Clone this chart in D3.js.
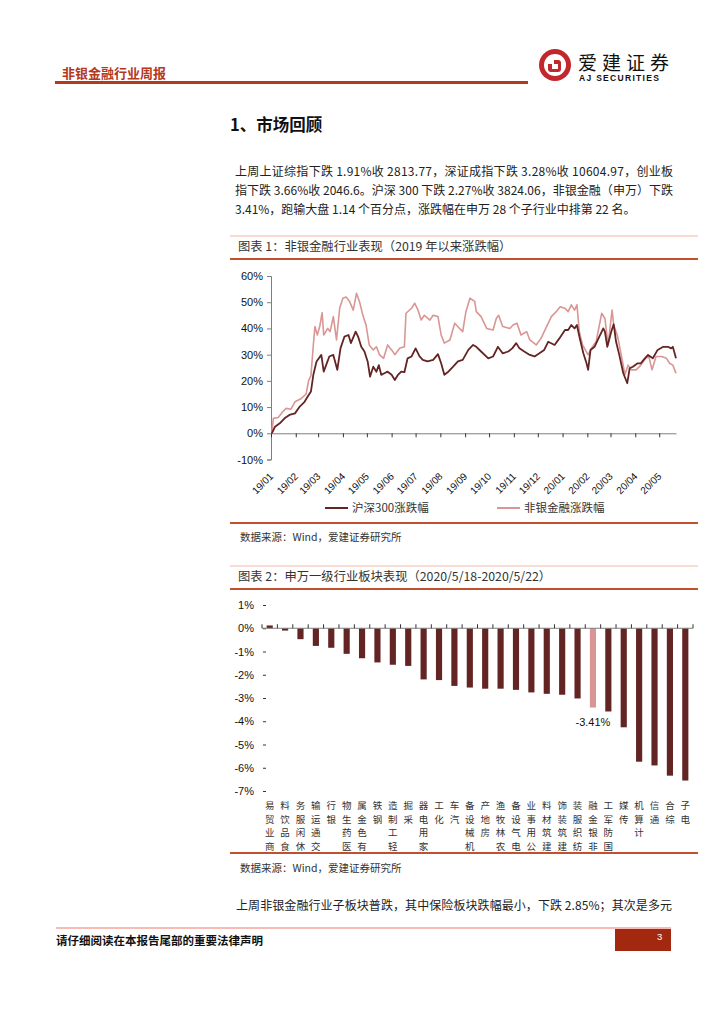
<!DOCTYPE html>
<html>
<head>
<meta charset="utf-8">
<script src="https://cdn.jsdelivr.net/npm/d3@7"></script>
<style>
  body { margin: 0; background: #fff; }
  svg { display: block; }
  text { font-family: "Noto Sans CJK SC", sans-serif; }
  .num text, text.num { font-family: "Liberation Sans", Arial, sans-serif; }
</style>
</head>
<body>
<svg id="page" width="724" height="1024"></svg>
<script>
// ---- chart 1 data: cumulative change since 2019 (%) ----
var hs300Dates = ["2019-01-02","2019-01-06","2019-01-12","2019-01-18","2019-01-24","2019-01-31","2019-02-06","2019-02-12","2019-02-16","2019-02-20","2019-02-23","2019-02-27","2019-03-05","2019-03-08","2019-03-11","2019-03-15","2019-03-20","2019-03-25","2019-03-29","2019-04-03","2019-04-08","2019-04-11","2019-04-17","2019-04-20","2019-04-24","2019-04-28","2019-05-02","2019-05-05","2019-05-09","2019-05-13","2019-05-16","2019-05-19","2019-05-23","2019-05-27","2019-06-01","2019-06-05","2019-06-09","2019-06-13","2019-06-17","2019-06-21","2019-06-26","2019-07-01","2019-07-06","2019-07-10","2019-07-16","2019-07-23","2019-07-29","2019-08-02","2019-08-06","2019-08-11","2019-08-17","2019-08-23","2019-08-29","2019-09-05","2019-09-11","2019-09-15","2019-09-21","2019-09-30","2019-10-06","2019-10-12","2019-10-18","2019-10-25","2019-10-30","2019-11-04","2019-11-08","2019-11-14","2019-11-21","2019-11-27","2019-12-03","2019-12-09","2019-12-14","2019-12-22","2019-12-28","2020-01-04","2020-01-08","2020-01-12","2020-01-16","2020-01-19","2020-01-22","2020-01-27","2020-01-31","2020-02-02","2020-02-05","2020-02-10","2020-02-16","2020-02-21","2020-02-23","2020-02-26","2020-03-02","2020-03-05","2020-03-08","2020-03-12","2020-03-17","2020-03-22","2020-03-25","2020-03-29","2020-04-04","2020-04-08","2020-04-13","2020-04-17","2020-04-23","2020-04-29","2020-05-06","2020-05-12","2020-05-16","2020-05-18","2020-05-22"];
var hs300Pct = [0,2.5,3.8,5.7,7,7.6,10.2,12,14,15.9,22.3,27.4,29.9,23.5,26,29.3,29.9,24.2,32.4,36.9,37.5,34.4,38.8,36.9,33,31.2,27.4,21.6,25.4,23.5,26,22.3,22.9,23.5,22.3,20.3,22.3,23.5,23.3,28.6,29.3,32.4,29.3,28,27.4,28,30.2,26.7,22.3,23.5,25.4,27.4,28,31.8,33.7,33,31.2,28.6,29.3,33,30.5,31.2,32.4,34.4,32.4,31.2,29.9,29.3,30.5,31.8,34.9,33.7,36.2,39.4,39.4,41.3,40,41.3,36.9,30.5,26.7,24.2,31.8,33,36.9,40,38.8,33,38.8,41.6,34.9,29.9,22.9,19.1,24.8,25.4,26.7,26.7,28.6,29.9,28.6,31.8,33,33,32.4,33,28.6];

var nonbankDates = ["2019-01-02","2019-01-04","2019-01-10","2019-01-16","2019-01-20","2019-01-26","2019-01-31","2019-02-08","2019-02-14","2019-02-17","2019-02-20","2019-02-23","2019-02-25","2019-02-28","2019-03-03","2019-03-06","2019-03-08","2019-03-13","2019-03-16","2019-03-20","2019-03-24","2019-03-28","2019-04-01","2019-04-05","2019-04-09","2019-04-14","2019-04-18","2019-04-22","2019-04-26","2019-04-30","2019-05-04","2019-05-09","2019-05-13","2019-05-17","2019-05-22","2019-05-27","2019-06-01","2019-06-05","2019-06-11","2019-06-17","2019-06-19","2019-06-26","2019-06-30","2019-07-04","2019-07-08","2019-07-12","2019-07-19","2019-07-23","2019-07-29","2019-08-02","2019-08-06","2019-08-13","2019-08-19","2019-08-25","2019-08-29","2019-09-02","2019-09-07","2019-09-13","2019-09-15","2019-09-21","2019-09-28","2019-10-06","2019-10-10","2019-10-13","2019-10-18","2019-10-27","2019-10-31","2019-11-05","2019-11-10","2019-11-17","2019-11-21","2019-11-29","2019-12-05","2019-12-12","2019-12-18","2019-12-24","2019-12-29","2020-01-04","2020-01-08","2020-01-12","2020-01-16","2020-01-19","2020-01-22","2020-01-26","2020-02-02","2020-02-06","2020-02-12","2020-02-19","2020-02-23","2020-02-27","2020-03-03","2020-03-05","2020-03-10","2020-03-16","2020-03-19","2020-03-23","2020-03-27","2020-04-02","2020-04-08","2020-04-14","2020-04-18","2020-04-22","2020-04-27","2020-05-04","2020-05-10","2020-05-14","2020-05-18","2020-05-22"];
var nonbankPct = [0,5.7,6,8.3,9.5,9.2,12,13.3,15,20,22,33.7,40.7,37.5,40.7,46,37.5,40,38.8,44.5,35.6,47.7,51.5,52,50.5,47,53.4,50,45,41.3,33.7,31.8,33,29.9,28.6,33.7,31.8,30,32.4,33,45.8,47.7,49.6,47,43.2,45,43.2,45,44.5,37.5,34.4,35.6,42,40,38.8,46.4,51.5,50.3,46.4,44.5,40,39.4,43.8,45,40.7,40,41.3,42,37.5,38.8,35.6,33.7,36.2,40.7,44.5,46.4,48.3,47.7,46.4,49,47,49,38.8,33.7,29.9,32.4,35,45.8,43.8,33.7,47,41.3,36.9,27.4,22.3,26,24.2,24.2,26,28.6,29.3,24.2,29.3,29.3,28.6,26.7,26,22.9];

var monthLabels = ["19/01","19/02","19/03","19/04","19/05","19/06","19/07","19/08","19/09","19/10","19/11","19/12","20/01","20/02","20/03","20/04","20/05"];
var yTicks1 = [-10, 0, 10, 20, 30, 40, 50, 60];
var seriesNames = ["沪深300涨跌幅", "非银金融涨跌幅"];

// ---- chart 2 data: weekly change by SW industry (%) ----
var industries = ["商业贸易","食品饮料","休闲服务","交通运输","银行","医药生物","有色金属","钢铁","轻工制造","采掘","家用电器","化工","汽车","机械设备","房地产","农林牧渔","电气设备","公用事业","建筑材料","建筑装饰","纺织服装","非银金融","国防军工","传媒","计算机","通信","综合","电子"];
var industryChange = [0.12,-0.1,-0.47,-0.76,-0.84,-1.1,-1.29,-1.47,-1.57,-1.62,-2.2,-2.23,-2.48,-2.55,-2.6,-2.6,-2.65,-2.76,-2.82,-2.86,-3.02,-3.41,-3.58,-4.26,-5.74,-5.9,-6.34,-6.55];
var yTicks2 = [1, 0, -1, -2, -3, -4, -5, -6, -7];

var paraLines = [
  "上周上证综指下跌 1.91%收 2813.77，深证成指下跌 3.28%收 10604.97，创业板",
  "指下跌 3.66%收 2046.6。沪深 300 下跌 2.27%收 3824.06，非银金融（申万）下跌",
  "3.41%，跑输大盘 1.14 个百分点，涨跌幅在申万 28 个子行业中排第 22 名。"
];
var bottomLine = "上周非银金融行业子板块普跌，其中保险板块跌幅最小，下跌 2.85%；其次是多元";

var darkRed = "#632523", pinkRed = "#D99694";
var svg = d3.select("#page");

// ---------- page header ----------
svg.append("text").attr("x", 62).attr("y", 78)
  .attr("font-size", 13).attr("font-weight", 700).attr("fill", "#B5371C")
  .text("非银金融行业周报");
svg.append("rect").attr("x", 55).attr("y", 81).attr("width", 473).attr("height", 3).attr("fill", "#B8381A");

var logo = svg.append("g").attr("transform", "translate(555,65)");
logo.append("circle").attr("r", 16).attr("fill", "#C1272D");
logo.append("circle").attr("r", 11).attr("fill", "#fff");
logo.append("rect").attr("x", -7).attr("y", -5).attr("width", 13).attr("height", 12).attr("rx", 3).attr("fill", "#C1272D");
logo.append("rect").attr("x", -3).attr("y", -1).attr("width", 6).attr("height", 5).attr("fill", "#fff");
logo.append("rect").attr("x", -7).attr("y", -5).attr("width", 6).attr("height", 4).attr("fill", "#fff");
svg.append("text").attr("x", 578).attr("y", 70)
  .attr("font-size", 19).attr("letter-spacing", 5).attr("fill", "#111")
  .text("爱建证券");
svg.append("text").attr("class", "num").attr("x", 579).attr("y", 81)
  .attr("font-size", 8.5).attr("font-weight", 700).attr("letter-spacing", 1.3).attr("fill", "#111")
  .text("AJ SECURITIES");

// ---------- section heading + paragraph ----------
svg.append("text").attr("x", 230).attr("y", 131)
  .attr("font-size", 16.5).attr("font-weight", 700).attr("fill", "#111")
  .text("1、市场回顾");

var paraY = [176, 195, 214];
paraLines.forEach(function(line, i) {
  var t = svg.append("text").attr("x", 235).attr("y", paraY[i])
    .attr("font-size", 12).attr("fill", "#222").text(line);
  if (i < 2) t.attr("textLength", 438).attr("lengthAdjust", "spacing");
});

// ---------- chart title boxes ----------
function titleBox(yTop, yBottom, label) {
  svg.append("line").attr("x1", 230).attr("x2", 698).attr("y1", yTop).attr("y2", yTop)
    .attr("stroke", "#F2B9A9").attr("stroke-width", 1.2);
  svg.append("text").attr("x", 238).attr("y", yTop + 15)
    .attr("font-size", 12.3).attr("fill", "#333").text(label);
  svg.append("line").attr("x1", 230).attr("x2", 698).attr("y1", yBottom).attr("y2", yBottom)
    .attr("stroke", "#C0502E").attr("stroke-width", 2);
}
function sourceBox(yLine, yText) {
  svg.append("line").attr("x1", 230).attr("x2", 698).attr("y1", yLine).attr("y2", yLine)
    .attr("stroke", "#C0502E").attr("stroke-width", 2);
  svg.append("text").attr("x", 240).attr("y", yText)
    .attr("font-size", 10.5).attr("fill", "#333").text("数据来源：Wind，爱建证券研究所");
}

titleBox(236, 259, "图表 1：非银金融行业表现（2019 年以来涨跌幅）");
sourceBox(523, 541);
titleBox(566, 589, "图表 2：申万一级行业板块表现（2020/5/18-2020/5/22）");
sourceBox(853, 872);

// ---------- chart 1: line chart ----------
var parse = d3.timeParse("%Y-%m-%d");
var x1 = d3.scaleTime()
  .domain([new Date(2019, 0, 1), new Date(2020, 4, 22)])
  .range([271, 676]);
var y1 = d3.scaleLinear().domain([-10, 60]).range([459.5, 276]);

var g1 = svg.append("g");

g1.append("g").attr("class", "num")
  .attr("transform", "translate(271,0)")
  .call(d3.axisLeft(y1).tickValues(yTicks1).tickSize(4).tickPadding(4)
    .tickFormat(function(d) { return d + "%"; }))
  .call(function(g) {
    g.selectAll("path, line").attr("stroke", "#7f7f7f");
    g.selectAll("text").attr("font-size", 11).attr("fill", "#111");
  });

var monthDates = monthLabels.map(function(m, i) { return new Date(2019, i, 1); });

g1.append("g")
  .attr("transform", "translate(0," + y1(0) + ")")
  .call(d3.axisBottom(x1).tickValues(monthDates).tickSize(4).tickSizeOuter(0).tickFormat(""))
  .call(function(g) {
    g.select(".domain").attr("stroke", "#7f7f7f");
    g.selectAll("line").attr("stroke", "#333");
  });

g1.append("g").attr("class", "num").selectAll("text")
  .data(monthLabels)
  .join("text")
  .attr("transform", function(d, i) {
    return "translate(" + (x1(monthDates[i]) - 2) + ",472) rotate(-45)";
  })
  .attr("text-anchor", "end")
  .attr("dy", "0.7em")
  .attr("font-size", 10).attr("fill", "#111")
  .text(function(d) { return d; });

var line1 = d3.line()
  .x(function(d) { return x1(d[0]); })
  .y(function(d) { return y1(d[1]); });

var nonbankData = nonbankDates.map(function(d, i) { return [parse(d), nonbankPct[i]]; });
var hs300Data = hs300Dates.map(function(d, i) { return [parse(d), hs300Pct[i]]; });

g1.append("path").datum(nonbankData).attr("d", line1)
  .attr("fill", "none").attr("stroke", pinkRed).attr("stroke-width", 1.6).attr("stroke-linejoin", "round");
g1.append("path").datum(hs300Data).attr("d", line1)
  .attr("fill", "none").attr("stroke", darkRed).attr("stroke-width", 1.8).attr("stroke-linejoin", "round");

// legend
var legendX = [325, 497];
var legendCol = [darkRed, pinkRed];
seriesNames.forEach(function(name, i) {
  g1.append("line").attr("x1", legendX[i]).attr("x2", legendX[i] + 23)
    .attr("y1", 508).attr("y2", 508).attr("stroke", legendCol[i]).attr("stroke-width", 2);
  g1.append("text").attr("x", legendX[i] + 27).attr("y", 512)
    .attr("font-size", 11.5).attr("fill", "#333").text(name);
});

// ---------- chart 2: bar chart ----------
var x2 = d3.scaleBand().domain(industries).range([262, 693]).paddingInner(0.6).paddingOuter(0.3);
var y2 = d3.scaleLinear().domain([-7, 1]).range([791, 605]);
var g2 = svg.append("g");

g2.append("g").attr("class", "num")
  .attr("transform", "translate(266,0)")
  .call(d3.axisLeft(y2).tickValues(yTicks2).tickSize(3).tickPadding(9)
    .tickFormat(function(d) { return d + "%"; }))
  .call(function(g) {
    g.select(".domain").remove();
    g.selectAll("line").attr("stroke", "#333");
    g.selectAll("text").attr("font-size", 11).attr("fill", "#111");
  });

g2.selectAll("rect.bar")
  .data(industries)
  .join("rect")
  .attr("class", "bar")
  .attr("x", function(d) { return x2(d); })
  .attr("width", x2.bandwidth())
  .attr("y", function(d, i) { return y2(Math.max(0, industryChange[i])); })
  .attr("height", function(d, i) { return Math.abs(y2(industryChange[i]) - y2(0)); })
  .attr("fill", function(d) { return d === "非银金融" ? pinkRed : darkRed; });

// zero line with category-boundary ticks
var step = x2.step();
var bounds = industries.map(function(d) { return x2(d) - (step - x2.bandwidth()) / 2; });
bounds.push(bounds[bounds.length - 1] + step);
g2.append("line").attr("x1", 262).attr("x2", 693).attr("y1", y2(0)).attr("y2", y2(0))
  .attr("stroke", "#7f7f7f");
g2.selectAll("line.btick").data(bounds).join("line").attr("class", "btick")
  .attr("x1", function(d) { return d; }).attr("x2", function(d) { return d; })
  .attr("y1", y2(0)).attr("y2", y2(0) - 4).attr("stroke", "#333");

// label for non-bank bar
var nbIdx = industries.indexOf("非银金融");
g2.append("text").attr("class", "num")
  .attr("x", x2("非银金融") + x2.bandwidth() / 2)
  .attr("y", y2(industryChange[nbIdx]) + 18)
  .attr("text-anchor", "middle").attr("font-size", 11).attr("fill", "#111")
  .text(industryChange[nbIdx].toFixed(2) + "%");

// category labels: one text per label, characters stacked with the first at the bottom
g2.selectAll("text.cat")
  .data(industries)
  .join("text")
  .attr("class", "cat")
  .attr("text-anchor", "middle").attr("font-size", 9.5).attr("fill", "#333")
  .each(function(name) {
    var chars = name.split("");
    var cx = x2(name) + x2.bandwidth() / 2;
    d3.select(this).selectAll("tspan")
      .data(chars)
      .join("tspan")
      .attr("x", cx)
      .attr("y", function(ch, j) { return 809 + (chars.length - 1 - j) * 13.5; })
      .text(function(ch) { return ch; });
  });

// ---------- bottom paragraph + footer ----------
svg.append("text").attr("x", 236).attr("y", 910)
  .attr("font-size", 12).attr("fill", "#222")
  .attr("textLength", 436).attr("lengthAdjust", "spacing")
  .text(bottomLine);

svg.append("line").attr("x1", 56).attr("x2", 671).attr("y1", 928).attr("y2", 928)
  .attr("stroke", "#F4A39C").attr("stroke-width", 1.5);
svg.append("text").attr("x", 56).attr("y", 945)
  .attr("font-size", 11.5).attr("font-weight", 700).attr("fill", "#111")
  .text("请仔细阅读在本报告尾部的重要法律声明");
svg.append("rect").attr("x", 615).attr("y", 929).attr("width", 56).attr("height", 22).attr("fill", "#A2290F");
svg.append("text").attr("class", "num").attr("x", 657).attr("y", 940)
  .attr("font-size", 9.5).attr("fill", "#fff").text("3");
</script>
</body>
</html>
